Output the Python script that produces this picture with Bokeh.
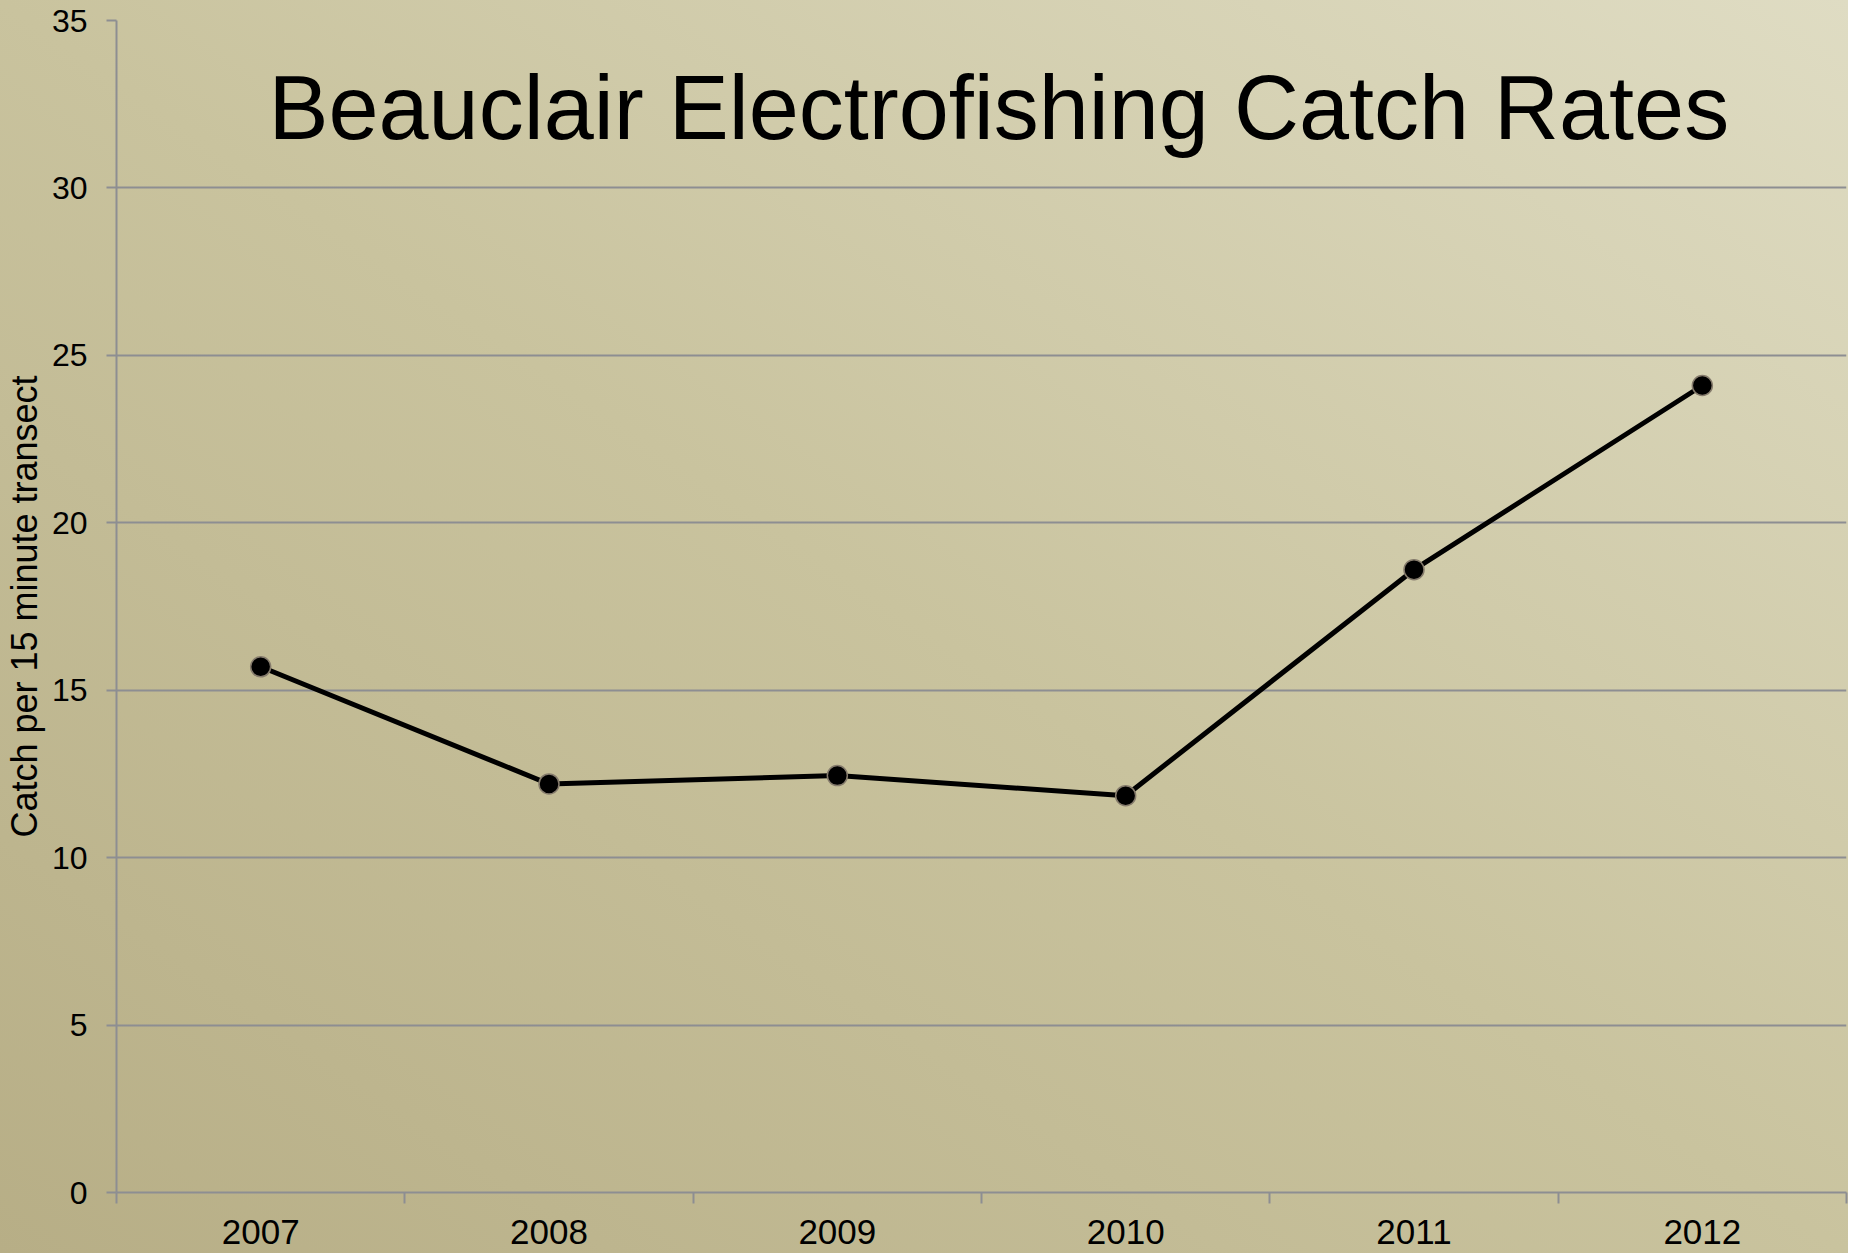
from bokeh.plotting import figure
from bokeh.models import FixedTicker, Label, Range1d, PrintfTickFormatter
from bokeh.embed import file_html
from bokeh.resources import INLINE

years = [2007, 2008, 2009, 2010, 2011, 2012]
catch_rate = [15.7, 12.2, 12.45, 11.85, 18.6, 24.1]
y_ticks = [0, 5, 10, 15, 20, 25, 30, 35]
title_text = "Beauclair Electrofishing Catch Rates"
y_label = "Catch per 15 minute transect"

GRID = "#8d8e92"
FONT = "Liberation Sans"

p = figure(width=1848, height=1253, output_backend="svg", toolbar_location=None,
           x_range=Range1d(years[0] - 0.5, years[-1] + 0.5),
           y_range=Range1d(y_ticks[0], y_ticks[-1]),
           min_border_left=114, min_border_right=2, min_border_top=20,
           min_border_bottom=61)
p.border_fill_color = None
p.background_fill_color = None
p.outline_line_color = None
p.styles = {"background": "linear-gradient(to top right, #b7ae86 0%, #c9c39e 50%, #dfdcc3 100%)"}

# x axis: labels at years, ticks at boundaries
p.xaxis.ticker = FixedTicker(ticks=years,
                             minor_ticks=[y - 0.5 for y in years] + [years[-1] + 0.5])
p.xaxis.formatter = PrintfTickFormatter(format="%d")
p.xaxis.major_tick_out = 0
p.xaxis.major_tick_in = 0
p.xaxis.minor_tick_out = 11
p.xaxis.minor_tick_in = 0
p.xaxis.minor_tick_line_color = GRID
p.xaxis.minor_tick_line_width = 2
p.xaxis.axis_line_color = GRID
p.xaxis.axis_line_width = 2
p.xaxis.major_label_text_font = FONT
p.xaxis.major_label_text_font_size = "35px"
p.xaxis.major_label_text_color = "black"
p.xaxis.major_label_standoff = 16

# y axis
p.yaxis.ticker = FixedTicker(ticks=y_ticks)
p.yaxis.major_tick_out = 10
p.yaxis.major_tick_in = 0
p.yaxis.minor_tick_line_color = None
p.yaxis.major_tick_line_color = GRID
p.yaxis.major_tick_line_width = 2
p.yaxis.axis_line_color = GRID
p.yaxis.axis_line_width = 2
p.yaxis.major_label_text_font = FONT
p.yaxis.major_label_text_font_size = "32px"
p.yaxis.major_label_text_color = "black"
p.yaxis.major_label_standoff = 19
p.yaxis.axis_label = y_label
p.yaxis.axis_label_text_font = FONT
p.yaxis.axis_label_text_font_size = "36px"
p.yaxis.axis_label_text_font_style = "normal"
p.yaxis.axis_label_text_color = "black"
p.yaxis.axis_label_standoff = 4

p.xgrid.grid_line_color = None
p.ygrid.grid_line_color = GRID
p.ygrid.grid_line_width = 2

p.line(years, catch_rate, line_color="black", line_width=5)
p.scatter(years, catch_rate, size=20, fill_color="black",
          line_color="#857b6c", line_width=1.5)

p.add_layout(Label(x=2009.56, y=32.4, text=title_text, text_font=FONT,
                   text_font_size="90px", text_color="black",
                   text_align="center", text_baseline="alphabetic"))

open("out.html", "w").write(file_html(p, INLINE))
